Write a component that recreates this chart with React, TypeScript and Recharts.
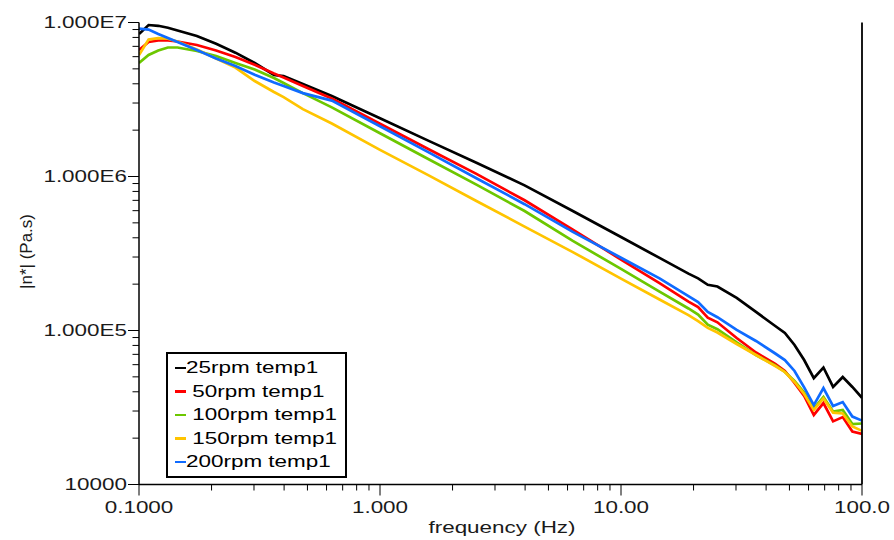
import React from 'react';
import { LineChart, Line, XAxis, YAxis, Legend, Label } from 'recharts';

// frequency (Hz)
const frequency = [
  0.1, 0.1096, 0.1202, 0.1318, 0.1445, 0.1738, 0.2089, 0.2512, 0.302, 0.3631,
  0.3981, 0.4786, 0.631, 1.0, 1.585, 2.512, 3.981, 6.31, 10, 14.45,
  19.05, 20.89, 22.91, 25.12, 30.2, 36.31, 43.65, 47.86, 52.48, 57.54,
  63.1, 69.18, 75.86, 83.18, 91.2, 100,
];

// |n*| (Pa.s)
const rpm25 = [
  8.42e6, 9.63e6, 9.52e6, 9.25e6, 8.87e6, 8.17e6, 7.27e6, 6.37e6, 5.46e6, 4.56e6,
  4.49e6, 3.99e6, 3.33e6, 2.39e6, 1.71e6, 1.23e6, 8.76e5, 5.97e5, 4.05e5, 2.96e5,
  2.34e5, 2.18e5, 1.98e5, 1.93e5, 1.63e5, 1.32e5, 1.07e5, 9.63e4, 8.05e4, 6.43e4,
  4.91e4, 5.75e4, 4.3e4, 4.99e4, 4.3e4, 3.65e4,
];
const rpm50 = [
  6.63e6, 7.47e6, 7.64e6, 7.66e6, 7.53e6, 7.14e6, 6.58e6, 5.97e6, 5.32e6, 4.66e6,
  4.4e6, 3.87e6, 3.21e6, 2.2e6, 1.51e6, 1.04e6, 7.01e5, 4.52e5, 2.89e5, 2.03e5,
  1.54e5, 1.42e5, 1.21e5, 1.13e5, 8.94e4, 7.2e4, 6.06e4, 5.46e4, 4.56e4, 3.76e4,
  2.83e4, 3.38e4, 2.57e4, 2.74e4, 2.21e4, 2.13e4,
];
const rpm100 = [
  5.46e6, 6.15e6, 6.58e6, 6.88e6, 6.88e6, 6.53e6, 6.06e6, 5.46e6, 4.95e6, 4.36e6,
  4.05e6, 3.48e6, 2.81e6, 1.91e6, 1.3e6, 8.85e5, 5.97e5, 3.82e5, 2.51e5, 1.79e5,
  1.39e5, 1.27e5, 1.09e5, 1.02e5, 8.36e4, 6.93e4, 5.93e4, 5.38e4, 4.7e4, 3.96e4,
  3.11e4, 3.7e4, 2.98e4, 3.05e4, 2.47e4, 2.49e4,
];
const rpm150 = [
  6.15e6, 7.75e6, 7.91e6, 7.84e6, 7.53e6, 6.68e6, 5.84e6, 5.1e6, 4.17e6, 3.54e6,
  3.28e6, 2.74e6, 2.21e6, 1.49e6, 1.02e6, 6.93e5, 4.73e5, 3.23e5, 2.17e5, 1.59e5,
  1.26e5, 1.15e5, 1.04e5, 9.7e4, 8.17e4, 6.93e4, 5.88e4, 5.38e4, 4.63e4, 3.87e4,
  3.05e4, 3.62e4, 2.93e4, 2.89e4, 2.38e4, 2.23e4,
];
const rpm200 = [
  9.12e6, 9.0e6, 8.42e6, 7.93e6, 7.47e6, 6.63e6, 5.84e6, 5.22e6, 4.58e6, 4.08e6,
  3.87e6, 3.48e6, 3.11e6, 2.12e6, 1.44e6, 9.75e5, 6.61e5, 4.37e5, 2.97e5, 2.18e5,
  1.67e5, 1.53e5, 1.32e5, 1.22e5, 1.01e5, 8.55e4, 7.09e4, 6.43e4, 5.46e4, 4.27e4,
  3.28e4, 4.23e4, 3.23e4, 3.43e4, 2.76e4, 2.6e4,
];

const seriesKeys = ['s25', 's50', 's100', 's150', 's200'];
const seriesNames = ['25rpm temp1', ' 50rpm temp1', ' 100rpm temp1', ' 150rpm temp1', '200rpm temp1'];
const seriesColors = ['#000000', '#FF0000', '#6CC700', '#FFC400', '#0F6BFF'];

const xMajorTicks = [0.1, 1, 10, 100];
const xMajorLabels = ['0.1000', '1.000', '10.00', '100.0'];
const xMinorTicks = [
  0.2, 0.3, 0.4, 0.5, 0.6, 0.7, 0.8, 0.9,
  2, 3, 4, 5, 6, 7, 8, 9,
  20, 30, 40, 50, 60, 70, 80, 90,
];
const yMajorTicks = [1e4, 1e5, 1e6, 1e7];
const yMajorLabels = ['10000', '1.000E5', '1.000E6', '1.000E7'];
const yMinorTicks = [
  2e4, 3e4, 4e4, 5e4, 6e4, 7e4, 8e4, 9e4,
  2e5, 3e5, 4e5, 5e5, 6e5, 7e5, 8e5, 9e5,
  2e6, 3e6, 4e6, 5e6, 6e6, 7e6, 8e6, 9e6,
];

const xTitle = 'frequency (Hz)';
const yTitle = '|n*| (Pa.s)';

const seriesValues = [rpm25, rpm50, rpm100, rpm150, rpm200];
const data = frequency.map((f, i) => {
  const row: any = { f };
  seriesKeys.forEach((k, j) => {
    row[k] = seriesValues[j][i];
  });
  return row;
});

const FONT = '"Liberation Sans", Arial, Helvetica, sans-serif';
const STRETCH = 1.36;
const TEXT_COLOR = '#1a1a1a';

const XTick = (props: any) => {
  const { x, y, payload } = props;
  const idx = xMajorTicks.indexOf(payload.value);
  const major = idx >= 0;
  return (
    <g>
      <line x1={x} x2={x} y1={y} y2={y + (major ? 11 : 6)} stroke="#000" strokeWidth={1} />
      {major && (
        <text
          transform={`translate(${x},${y + 28}) scale(${STRETCH},1)`}
          textAnchor="middle"
          fontSize={16.5}
          fontFamily={FONT}
          fill={TEXT_COLOR}
        >
          {xMajorLabels[idx]}
        </text>
      )}
    </g>
  );
};

const YTick = (props: any) => {
  const { x, y, payload } = props;
  const idx = yMajorTicks.indexOf(payload.value);
  const major = idx >= 0;
  return (
    <g>
      <line x1={x - (major ? 11 : 6.5)} x2={x} y1={y} y2={y} stroke="#000" strokeWidth={1} />
      {major && (
        <text
          transform={`translate(${x - 12},${y + 5.8}) scale(${STRETCH},1)`}
          textAnchor="end"
          fontSize={16.5}
          fontFamily={FONT}
          fill={TEXT_COLOR}
        >
          {yMajorLabels[idx]}
        </text>
      )}
    </g>
  );
};

const XTitle = (props: any) => {
  const vb = props.viewBox || {};
  const cx = vb.x + vb.width / 2 + 1.5;
  return (
    <text
      transform={`translate(${cx},${vb.y + 48.5}) scale(${STRETCH},1)`}
      textAnchor="middle"
      fontSize={16.5}
      fontFamily={FONT}
      fill={TEXT_COLOR}
    >
      {xTitle}
    </text>
  );
};

const YTitle = (props: any) => {
  const vb = props.viewBox || {};
  const cy = vb.y + vb.height / 2 - 2;
  return (
    <text
      transform={`translate(32,${cy}) rotate(-90)`}
      textAnchor="middle"
      fontSize={17}
      fontFamily={FONT}
      fill={TEXT_COLOR}
    >
      {yTitle}
    </text>
  );
};

const LegendBox = (props: any) => {
  const payload = [...(props.payload || [])].sort(
    (a: any, b: any) => seriesKeys.indexOf(a.dataKey) - seriesKeys.indexOf(b.dataKey)
  );
  return (
    <div
      style={{
        width: 181,
        height: 126,
        border: '2.6px solid #000',
        boxSizing: 'border-box',
        background: '#fff',
        position: 'relative',
      }}
    >
      {payload.map((p: any, i: number) => (
        <div
          key={i}
          style={{
            position: 'absolute',
            left: 7,
            top: 2.5 + i * 23.5,
            height: 23.5,
            display: 'flex',
            alignItems: 'center',
          }}
        >
          <span style={{ display: 'inline-block', width: 11, height: 2.5, background: p.color }} />
          <span
            style={{
              display: 'inline-block',
              transform: `scaleX(${STRETCH})`,
              transformOrigin: 'left center',
              fontSize: 16.5,
              fontFamily: FONT,
              color: '#000',
              whiteSpace: 'pre',
              lineHeight: '23.5px',
            }}
          >
            {p.value}
          </span>
        </div>
      ))}
    </div>
  );
};

export default function App() {
  return (
    <div style={{ position: 'absolute', left: 0, top: 0, background: '#fff' }}>
      <LineChart
        width={894}
        height={540}
        data={data}
        margin={{ top: 22.5, right: 0, bottom: 5.5, left: 0 }}
      >
        <XAxis
          dataKey="f"
          type="number"
          scale="log"
          domain={[0.1, 100]}
          allowDataOverflow
          ticks={[...xMajorTicks, ...xMinorTicks]}
          interval={0}
          tick={<XTick />}
          tickLine={false}
          tickSize={0}
          tickMargin={0}
          height={50}
          axisLine={{ stroke: '#000', strokeWidth: 1.5 }}
        >
          <Label content={<XTitle />} />
        </XAxis>
        <YAxis
          yAxisId="l"
          type="number"
          scale="log"
          domain={[1e4, 1e7]}
          allowDataOverflow
          ticks={[...yMajorTicks, ...yMinorTicks]}
          interval={0}
          tick={<YTick />}
          tickLine={false}
          tickSize={0}
          tickMargin={0}
          width={139}
          axisLine={{ stroke: '#000', strokeWidth: 1.5 }}
        >
          <Label content={<YTitle />} />
        </YAxis>
        <YAxis
          yAxisId="r"
          orientation="right"
          type="number"
          domain={[0, 1]}
          width={32}
          tick={false}
          tickLine={false}
          axisLine={{ stroke: '#000', strokeWidth: 1.8 }}
        />
        <Legend
          layout="vertical"
          align="center"
          verticalAlign="middle"
          content={<LegendBox />}
          wrapperStyle={{ left: 165.7, top: 351.7, width: 181, height: 126 }}
        />
        {seriesKeys.map((k, j) => (
          <Line
            key={k}
            yAxisId="l"
            name={seriesNames[j]}
            dataKey={k}
            stroke={seriesColors[j]}
            strokeWidth={2.7}
            dot={false}
            isAnimationActive={false}
          />
        ))}
      </LineChart>
    </div>
  );
}
